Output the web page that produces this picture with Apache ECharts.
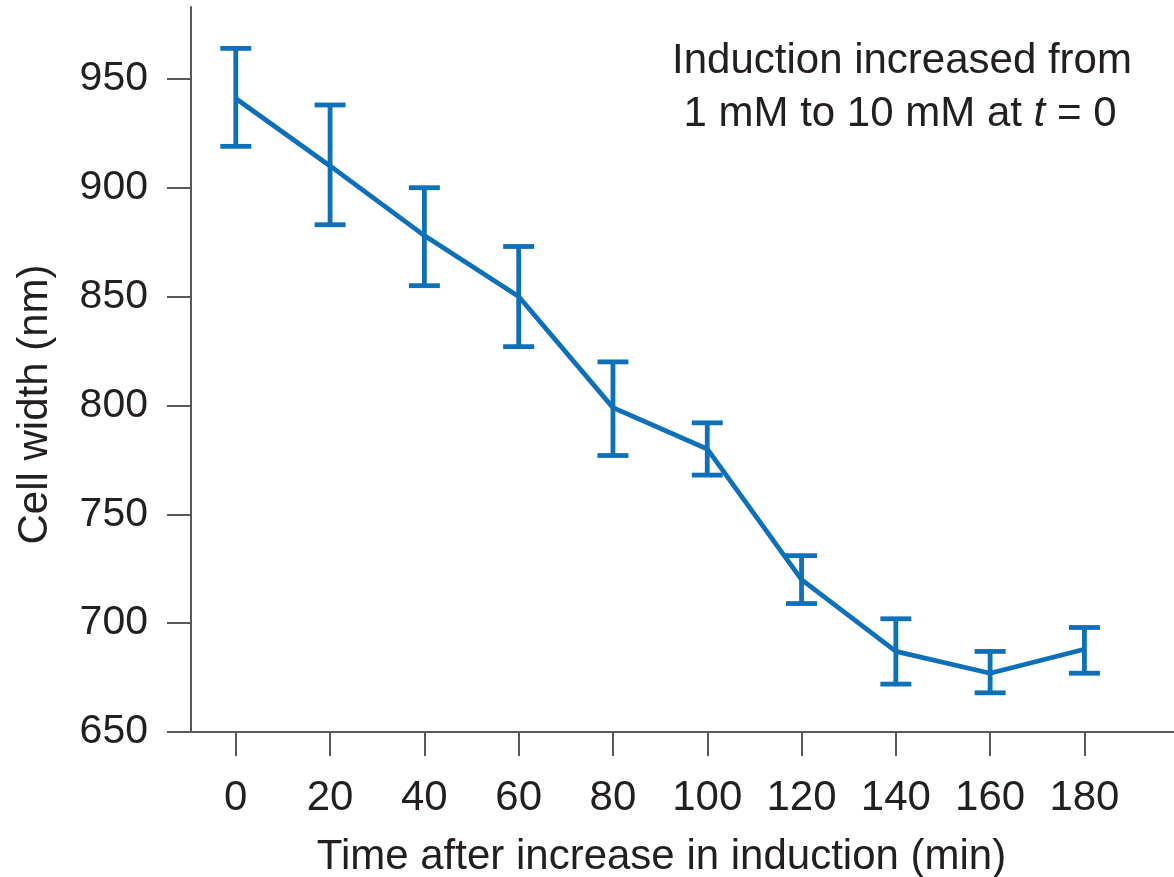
<!DOCTYPE html>
<html><head><meta charset="utf-8">
<script src="https://cdn.jsdelivr.net/npm/echarts@6/dist/echarts.min.js"></script>
<style>html,body{margin:0;padding:0;background:#fff}#c{width:1174px;height:877px}</style>
</head><body><div id="c"></div>
<script>
const times = [0, 20, 40, 60, 80, 100, 120, 140, 160, 180];
const meanWidth = [941, 910, 878, 850, 799, 780, 720, 687, 677, 688];
const errLow = [919, 883, 855, 827, 777, 768, 709, 672, 668, 677];
const errHigh = [964, 938, 900, 873, 820, 792, 731, 702, 687, 698];
const xTickLabels = [0, 20, 40, 60, 80, 100, 120, 140, 160, 180];
const yTickLabels = [650, 700, 750, 800, 850, 900, 950];
const xTitle = 'Time after increase in induction (min)';
const yTitle = 'Cell width (nm)';
const noteLine1 = 'Induction increased from';
const noteLine2 = '1 mM to 10 mM at {i|t} = 0';

const FONT = "'Liberation Sans', Arial, Helvetica, sans-serif";
const TEXT = '#231f20';
const AXIS = '#58595b';
const BLUE = '#0e70b8';

const chart = echarts.init(document.getElementById('c'), null, {renderer: 'canvas'});
chart.setOption({
  animation: false,
  backgroundColor: '#ffffff',
  grid: {left: 191, right: 0, top: 7, bottom: 145, containLabel: false, outerBoundsMode: 'none'},
  xAxis: {
    type: 'value', min: -9.5, max: 199,
    splitLine: {show: false},
    axisLine: {show: true, onZero: false, lineStyle: {color: AXIS, width: 2}},
    axisTick: {show: true, inside: false, length: 24, customValues: xTickLabels, lineStyle: {color: AXIS, width: 2}},
    axisLabel: {customValues: xTickLabels, fontSize: 42, fontFamily: FONT, color: TEXT, margin: 45},
    name: xTitle, nameLocation: 'middle', nameGap: 104,
    nameTextStyle: {fontSize: 42, fontFamily: FONT, color: TEXT, padding: [0, 42, 0, 0]}
  },
  yAxis: {
    type: 'value', min: 650, max: 983,
    splitLine: {show: false},
    axisLine: {show: true, onZero: false, lineStyle: {color: AXIS, width: 2}},
    axisTick: {show: true, inside: false, length: 24, customValues: yTickLabels, lineStyle: {color: AXIS, width: 2}},
    axisLabel: {customValues: yTickLabels, fontSize: 41, fontFamily: FONT, color: TEXT, margin: 43},
    name: yTitle, nameLocation: 'middle', nameGap: 135,
    nameTextStyle: {fontSize: 42, fontFamily: FONT, color: TEXT, padding: [0, 70, 0, 0]}
  },
  series: [
    {
      type: 'line',
      data: times.map((t, i) => [t, meanWidth[i]]),
      showSymbol: false,
      symbol: 'none',
      lineStyle: {color: BLUE, width: 4.8},
      z: 2
    },
    {
      type: 'custom',
      data: times.map((t, i) => [t, errLow[i], errHigh[i]]),
      renderItem: function (params, api) {
        const x = api.value(0), lo = api.value(1), hi = api.value(2);
        const pLo = api.coord([x, lo]);
        const pHi = api.coord([x, hi]);
        const hw = 15.5;
        const st = {stroke: BLUE, lineWidth: 4.8, fill: null};
        return {
          type: 'group',
          children: [
            {type: 'line', shape: {x1: pLo[0], y1: pLo[1], x2: pHi[0], y2: pHi[1]}, style: st},
            {type: 'line', shape: {x1: pLo[0] - hw, y1: pLo[1], x2: pLo[0] + hw, y2: pLo[1]}, style: st},
            {type: 'line', shape: {x1: pHi[0] - hw, y1: pHi[1], x2: pHi[0] + hw, y2: pHi[1]}, style: st}
          ]
        };
      },
      z: 3
    }
  ],
  graphic: [
    {type: 'text', x: 902, y: 61, style: {text: noteLine1, fontSize: 42, fontFamily: FONT, fill: TEXT, textAlign: 'center', textVerticalAlign: 'middle'}},
    {type: 'text', x: 900, y: 114, style: {text: noteLine2, fontSize: 42, fontFamily: FONT, fill: TEXT, textAlign: 'center', textVerticalAlign: 'middle',
      rich: {i: {fontStyle: 'italic', fontSize: 42, fontFamily: FONT, fill: TEXT}}}}
  ]
});
</script>
</body></html>
